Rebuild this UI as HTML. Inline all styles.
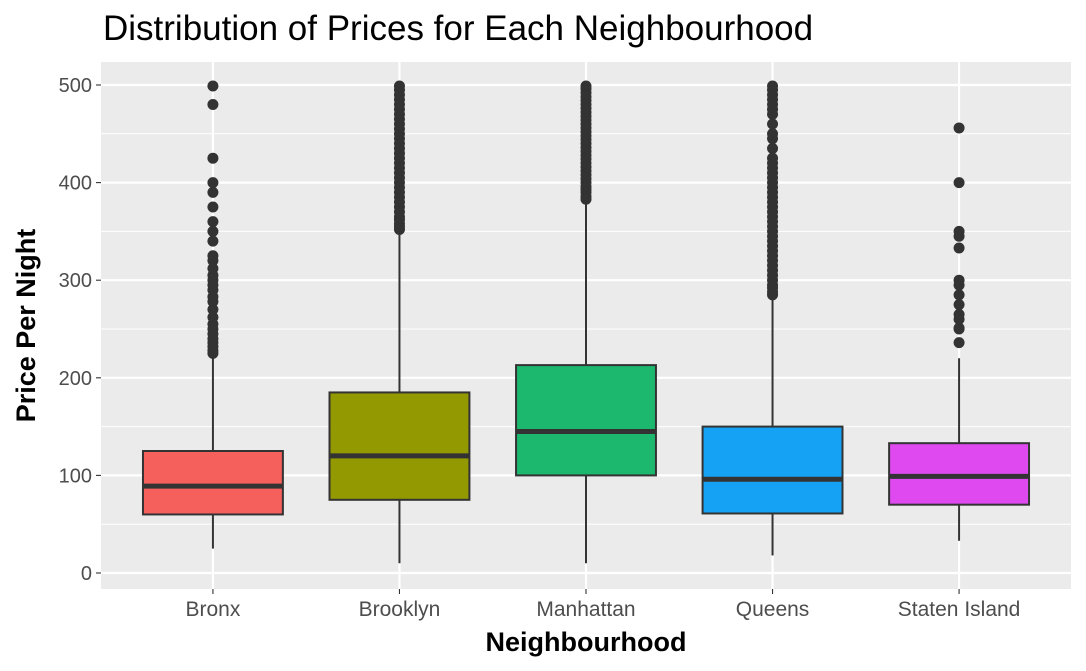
<!DOCTYPE html>
<html><head><meta charset="utf-8"><style>
html,body{margin:0;padding:0;background:#fff;}
svg{display:block;font-family:"Liberation Sans",Arial,sans-serif;}
</style></head><body>
<svg id="chart" width="1086" height="671"></svg>
<script>
const categories=["Bronx","Brooklyn","Manhattan","Queens","Staten Island"];
const lowWhisker=[25,10,10,18,33];
const q1=[60,75,100,61,70];
const medians=[89,120,145,96,99];
const q3=[125,185,213,150,133];
const highWhisker=[222,350,382,284,220];
const outBronx=[225,228,232,236,240,245,250,255,262,270,278,283,290,295,300,305,312,320,325,340,350,360,375,390,400,425,480,499];
const outBrooklyn=[352,355,358,362,365,370,375,380,385,390,395,400,405,410,415,420,425,430,435,440,445,450,455,460,465,470,475,480,485,490,495,499];
const outManhattan=[383,386,390,393,396,400,404,408,412,416,420,424,428,432,436,440,444,448,452,456,460,464,468,472,476,480,484,488,492,496,499];
const outQueens=[285,288,292,295,300,305,310,315,320,325,330,335,340,345,350,355,360,365,370,375,380,385,390,395,400,405,410,415,420,425,435,445,450,460,470,475,480,485,490,495,499];
const outStaten=[236,250,251,260,265,275,285,295,300,333,345,350,400,456];
const outliers=[outBronx,outBrooklyn,outManhattan,outQueens,outStaten];
const yTicks=[0,100,200,300,400,500];
const colors=["#F5605C","#939900","#1BB86E","#16A2F4","#DE4AF0"];

const NS="http://www.w3.org/2000/svg";
const svg=document.getElementById("chart");
const PL=101,PR=1071,PT=62,PB=589;
const y=v=>573-v*(488/500);
const step=(PR-PL)/(categories.length+0.2);
const x=i=>PL+step*(i+0.6);
const BW=step*0.75;
function el(t,a,p){const e=document.createElementNS(NS,t);for(const k in a)e.setAttribute(k,a[k]);(p||svg).appendChild(e);return e;}

const panel=el("rect",{x:PL,y:PT,width:PR-PL,height:PB-PT,fill:"#EBEBEB"});


for(let v=50;v<=550;v+=100){if(y(v)<PT)continue;const g=el("line",{x1:PL,x2:PR,y1:y(v),y2:y(v),stroke:"#fff","stroke-width":1});

}
yTicks.forEach(v=>{const g=el("line",{x1:PL,x2:PR,y1:y(v),y2:y(v),stroke:"#fff","stroke-width":2.2});


const t=el("line",{x1:PL-5,x2:PL,y1:y(v),y2:y(v),stroke:"#333","stroke-width":1.1});


const l=el("text",{x:PL-9,y:y(v)+7,"text-anchor":"end","font-size":"20",fill:"#4D4D4D"});l.textContent=v;

});
categories.forEach((c,i)=>{const g=el("line",{x1:x(i),x2:x(i),y1:PT,y2:PB,stroke:"#fff","stroke-width":2.2});

});
categories.forEach((c,i)=>{
 const cx=x(i);
 const grp=el("g",{});
 
 
 el("line",{x1:cx,x2:cx,y1:y(lowWhisker[i]),y2:y(q1[i]),stroke:"#333","stroke-width":2},grp);
 el("line",{x1:cx,x2:cx,y1:y(q3[i]),y2:y(highWhisker[i]),stroke:"#333","stroke-width":2},grp);
 el("rect",{x:cx-BW/2,y:y(q3[i]),width:BW,height:y(q1[i])-y(q3[i]),fill:colors[i],stroke:"#333","stroke-width":2},grp);
 el("line",{x1:cx-BW/2,x2:cx+BW/2,y1:y(medians[i]),y2:y(medians[i]),stroke:"#333","stroke-width":5},grp);
 outliers[i].forEach(v=>{const p=el("circle",{cx:cx,cy:y(v),r:5.5,fill:"#333"},grp);
 
 });
 const t=el("line",{x1:cx,x2:cx,y1:PB,y2:PB+5,stroke:"#333","stroke-width":1.1});
 
 
 const l=el("text",{x:cx,y:PB+27,"text-anchor":"middle","font-size":"21",fill:"#4D4D4D"});l.textContent=c;
 
 
});
const title=el("text",{x:PL+2,y:40,"font-size":"35",fill:"#000"});title.textContent="Distribution of Prices for Each Neighbourhood";


const xt=el("text",{x:(PL+PR)/2,y:651,"text-anchor":"middle","font-size":"27","font-weight":"bold"});xt.textContent="Neighbourhood";


const yt=el("text",{x:0,y:0,"text-anchor":"middle","font-size":"27","font-weight":"bold",transform:"translate(35,"+((PT+PB)/2)+") rotate(-90)"});yt.textContent="Price Per Night";


</script>
</body></html>
